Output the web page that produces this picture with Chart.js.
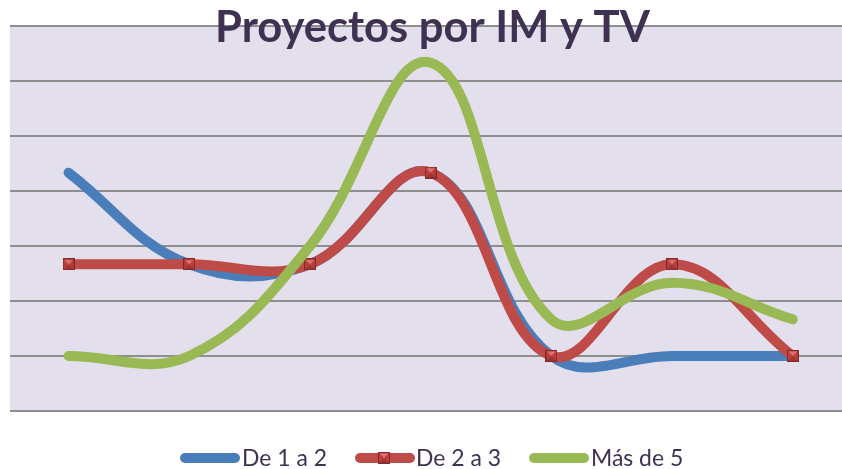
<!DOCTYPE html>
<html>
<head>
<meta charset="utf-8">
<script src="https://cdn.jsdelivr.net/npm/chart.js@4.4.1/dist/chart.umd.min.js"></script>
<style>
html,body{margin:0;padding:0;background:#ffffff;overflow:hidden;}
#wrap{width:842px;height:469px;position:relative;}
</style>
</head>
<body>
<div id="wrap"><canvas id="c" width="842" height="469"></canvas></div>
<script>
// ---- data ----
const chartTitle = "Proyectos por IM y TV";
const categories = ["1", "2", "3", "4", "5", "6", "7"];
const seriesNames = ["De 1 a 2", "De 2 a 3", "Más de 5"];
const blueValues = [3, 2, 2, 3, 1, 1, 1];
const redValues = [2, 2, 2, 3, 1, 2, 1];
const greenValues = [1, 1, 2.2, 4.2, 1.4, 1.8, 1.4];
const yTicks = [0.4, 1.0, 1.6, 2.2, 2.8, 3.4, 4.0, 4.6];

// ---- styles ----
const colors = ["#4a7ebb", "#be4b48", "#98b954"];
const textColor = "#3f3151";

function toPoints(vals) {
  return vals.map((v, i) => ({ x: i, y: v }));
}

// marker image for the red series
function makeMarker() {
  const m = document.createElement("canvas");
  m.width = 12; m.height = 12;
  const g = m.getContext("2d");
  g.fillStyle = "#7f2826";
  g.fillRect(0, 0, 12, 12);
  g.fillStyle = "#b53f3c";
  g.fillRect(1, 1, 10, 10);
  g.fillStyle = "#e4706d";
  g.beginPath();
  g.moveTo(1.5, 1.5); g.lineTo(10.5, 1.5); g.lineTo(6, 6); g.closePath();
  g.fill();
  g.fillStyle = "#9c3432";
  g.beginPath();
  g.moveTo(1, 11); g.lineTo(11, 11); g.lineTo(6, 6.5); g.closePath();
  g.fill();
  return m;
}
const marker = makeMarker();

const bgPlugin = {
  id: "plotBg",
  beforeDraw(chart) {
    const a = chart.chartArea, ctx = chart.ctx;
    ctx.save();
    ctx.fillStyle = "#e4dfec";
    ctx.fillRect(a.left, a.top, a.right - a.left, a.bottom - a.top);
    ctx.restore();
  }
};

function fitFont(ctx, text, weight, family, target, base) {
  ctx.font = weight + " " + base + "px " + family;
  const w = ctx.measureText(text).width;
  return base * target / w;
}

const overlayPlugin = {
  id: "overlay",
  afterDraw(chart) {
    const ctx = chart.ctx;
    ctx.save();
    // title
    const ts = fitFont(ctx, chartTitle, "bold", "Lato", 435, 40);
    ctx.font = "bold " + ts.toFixed(2) + "px Lato";
    ctx.fillStyle = textColor;
    ctx.textAlign = "center";
    ctx.textBaseline = "alphabetic";
    ctx.fillText(chartTitle, 432.5, 42);

    // legend
    const items = [
      { x1: 185, x2: 235, tx: 242 },
      { x1: 360, x2: 410, tx: 416 },
      { x1: 534, x2: 584, tx: 591 }
    ];
    const ls = fitFont(ctx, seriesNames[0], "normal", "Lato", 85, 22);
    items.forEach((it, i) => {
      ctx.strokeStyle = colors[i];
      ctx.lineWidth = 10;
      ctx.lineCap = "round";
      ctx.beginPath();
      ctx.moveTo(it.x1, 458);
      ctx.lineTo(it.x2, 458);
      ctx.stroke();
      if (i === 1) {
        ctx.drawImage(marker, 384 - 6, 458 - 6);
      }
      ctx.font = "normal " + ls.toFixed(2) + "px Lato";
      ctx.fillStyle = textColor;
      ctx.textAlign = "left";
      ctx.textBaseline = "alphabetic";
      ctx.fillText(seriesNames[i], it.tx, 466);
    });
    ctx.restore();
  }
};

new Chart(document.getElementById("c"), {
  type: "line",
  data: {
    labels: categories,
    datasets: [
      {
        label: seriesNames[0],
        data: toPoints(blueValues),
        borderColor: colors[0],
        borderWidth: 10,
        borderCapStyle: "round",
        borderJoinStyle: "round",
        pointRadius: 0,
        tension: 0.4,
        fill: false,
        order: 3
      },
      {
        label: seriesNames[1],
        data: toPoints(redValues),
        borderColor: colors[1],
        borderWidth: 10,
        borderCapStyle: "round",
        borderJoinStyle: "round",
        pointStyle: marker,
        pointRadius: 6,
        tension: 0.4,
        fill: false,
        order: 2
      },
      {
        label: seriesNames[2],
        data: toPoints(greenValues),
        borderColor: colors[2],
        borderWidth: 10,
        borderCapStyle: "round",
        borderJoinStyle: "round",
        pointRadius: 0,
        tension: 0.4,
        fill: false,
        order: 1
      }
    ]
  },
  options: {
    responsive: false,
    animation: false,
    events: [],
    layout: { autoPadding: false, padding: { left: 10, right: 0, top: 26, bottom: 58 } },
    plugins: {
      legend: { display: false },
      title: { display: false },
      tooltip: { enabled: false }
    },
    scales: {
      x: {
        type: "linear",
        display: false,
        min: -0.485,
        max: 6.408
      },
      y: {
        type: "linear",
        min: yTicks[0],
        max: yTicks[yTicks.length - 1],
        afterBuildTicks(scale) {
          scale.ticks = yTicks.map(v => ({ value: v }));
        },
        ticks: { display: false },
        grid: { color: "#8e8e8e", lineWidth: 2, drawTicks: false },
        border: { display: false }
      }
    }
  },
  plugins: [bgPlugin, overlayPlugin]
});
</script>
</body>
</html>
